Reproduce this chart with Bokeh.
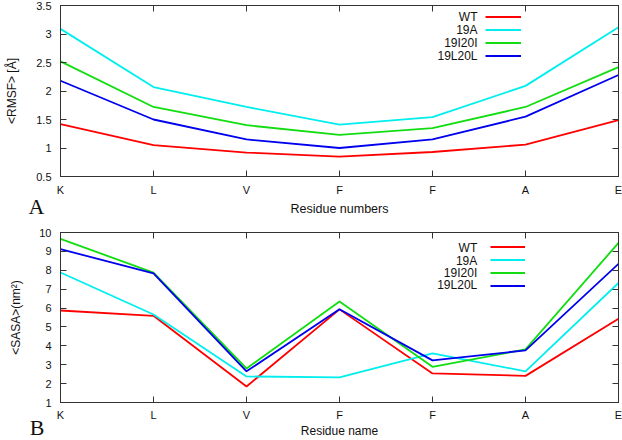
from bokeh.plotting import figure
from bokeh.models import (Range1d, FixedTicker, LinearAxis, Label, Legend, LegendItem,
                          NumeralTickFormatter, ColumnDataSource)
from bokeh.layouts import column
from bokeh.embed import file_html
from bokeh.resources import INLINE

residues = ["K", "L", "V", "F", "F", "A", "E"]
series_names = ["WT", "19A", "19I20I", "19L20L"]
colors = ["#ff0000", "#00eeee", "#11dd11", "#0000ee"]

rmsf_wt = [1.42, 1.05, 0.92, 0.85, 0.93, 1.06, 1.49]
rmsf_19a = [3.09, 2.07, 1.72, 1.41, 1.54, 2.09, 3.12]
rmsf_19i20i = [2.52, 1.72, 1.40, 1.23, 1.35, 1.72, 2.42]
rmsf_19l20l = [2.18, 1.50, 1.15, 1.00, 1.15, 1.55, 2.28]

sasa_wt = [5.87, 5.59, 1.85, 5.93, 2.54, 2.41, 5.43]
sasa_19a = [7.88, 5.66, 2.38, 2.33, 3.60, 2.65, 7.33]
sasa_19i20i = [9.66, 7.88, 2.80, 6.35, 2.89, 3.81, 9.45]
sasa_19l20l = [9.12, 7.83, 2.65, 5.94, 3.23, 3.76, 8.34]

rmsf_ticks = [0.5, 1, 1.5, 2, 2.5, 3, 3.5]
sasa_ticks = [1, 2, 3, 4, 5, 6, 7, 8, 9, 10]

xs = list(range(len(residues)))
FONT = "Liberation Sans"
AX = "#333333"
TXT = "#111111"


def style_axes(p, yticks, ylabel, xlabel, yfmt=None):
    p.xaxis.ticker = FixedTicker(ticks=xs)
    p.xaxis.major_label_overrides = {i: r for i, r in enumerate(residues)}
    p.yaxis.ticker = FixedTicker(ticks=yticks)
    if yfmt:
        p.yaxis.formatter = yfmt
    for ax in [p.xaxis[0], p.yaxis[0]]:
        ax.major_tick_in = 6
        ax.major_tick_out = 0
        ax.minor_tick_line_color = None
        ax.axis_line_color = AX
        ax.major_tick_line_color = AX
        ax.major_label_text_font = FONT
        ax.major_label_text_font_size = "11px"
        ax.major_label_text_color = TXT
        ax.axis_label_text_font = FONT
        ax.axis_label_text_font_style = "normal"
        ax.axis_label_text_color = TXT
    p.xaxis.axis_label = xlabel
    p.xaxis.axis_label_text_font_size = "12.5px"
    p.xaxis.major_label_standoff = 7
    p.xaxis.axis_label_standoff = 3
    p.yaxis.axis_label = ylabel
    p.yaxis.axis_label_text_font_size = "12px"
    p.yaxis.major_label_standoff = 9
    # mirror ticks (labels not painted)
    top = LinearAxis(ticker=FixedTicker(ticks=xs), major_tick_in=6, major_tick_out=0,
                     minor_tick_line_color=None, major_label_text_font_size="1px",
                     major_label_text_color=None, major_label_standoff=0,
                     axis_line_color=AX, major_tick_line_color=AX)
    right = LinearAxis(ticker=FixedTicker(ticks=yticks), major_tick_in=6, major_tick_out=0,
                       minor_tick_line_color=None, major_label_text_font_size="1px",
                       major_label_text_color=None, major_label_standoff=0,
                       axis_line_color=AX, major_tick_line_color=AX)
    p.add_layout(top, "above")
    p.add_layout(right, "right")
    p.outline_line_color = AX
    p.grid.visible = False
    p.background_fill_color = "white"
    p.border_fill_color = "white"


def add_panel_letter(p, letter, y_start, line_height, standoff):
    # a label-only axis on the left, its one label hangs below the frame's bottom edge
    ax = LinearAxis(ticker=FixedTicker(ticks=[y_start]),
                    major_label_overrides={y_start: "\n" + letter},
                    major_tick_in=0, major_tick_out=0,
                    minor_tick_line_color=None, axis_line_color=None,
                    major_tick_line_color=None, major_label_standoff=standoff,
                    major_label_text_line_height=line_height,
                    major_label_text_font="Liberation Serif",
                    major_label_text_font_size="22px", major_label_text_color=TXT)
    p.add_layout(ax, "left")


def add_lines(p, ys_list):
    renderers = []
    for ys, c in zip(ys_list, colors):
        src = ColumnDataSource(dict(x=xs, y=ys))
        r = p.line("x", "y", source=src, line_color=c, line_width=1.8)
        renderers.append(r)
    return renderers


def add_legend(p, renderers, loc, gw, label_x, rows):
    leg = Legend(items=[LegendItem(label=" ", renderers=[r]) for r in renderers],
                 location=loc, glyph_width=gw, glyph_height=13, label_height=13,
                 label_width=0, label_standoff=0, spacing=0, padding=0, margin=0,
                 border_line_color=None, background_fill_alpha=0,
                 label_text_font_size="1px", label_text_color=None)
    p.add_layout(leg)
    for name, y in zip(series_names, rows):
        p.add_layout(Label(x=label_x, y=y, text=name, text_align="right",
                           text_baseline="middle", text_font=FONT,
                           text_font_size="12px", text_color=TXT))


# ---- Panel A ----
pA = figure(width=622, height=220, output_backend="svg", toolbar_location=None,
            x_range=Range1d(0, 6), y_range=Range1d(0.5, 3.5),
            min_border_left=60, min_border_right=4, min_border_top=5, min_border_bottom=44)
style_axes(pA, rmsf_ticks, "<RMSF> [Å]", "Residue numbers", NumeralTickFormatter(format="0.[0]"))
pA.yaxis.axis_label_standoff = 14
rA = add_lines(pA, [rmsf_wt, rmsf_19a, rmsf_19i20i, rmsf_19l20l])
add_legend(pA, rA, (425, 114), 36, 4.484, [3.302, 3.074, 2.846, 2.618])
add_panel_letter(pA, "A", rmsf_ticks[0], 2.65, -42)

# ---- Panel B ----
pB = figure(width=622, height=220, output_backend="svg", toolbar_location=None,
            x_range=Range1d(0, 6), y_range=Range1d(1, 10),
            min_border_left=53, min_border_right=4, min_border_top=12, min_border_bottom=37)
style_axes(pB, sasa_ticks, "<SASA>(nm²)", "Residue name")
pB.yaxis.axis_label_standoff = 13
pB.xaxis.major_label_standoff = 6
pB.xaxis.axis_label_standoff = 0
pB.xaxis.axis_label_text_font_size = "12px"
rB = add_lines(pB, [sasa_wt, sasa_19a, sasa_19i20i, sasa_19l20l])
add_legend(pB, rB, (430, 110), 35, 4.481, [9.195, 8.511, 7.858, 7.195])
add_panel_letter(pB, "B", sasa_ticks[0], 2.1, -38)

layout = column(pA, pB, spacing=0)
open("out.html", "w").write(file_html(layout, INLINE))
